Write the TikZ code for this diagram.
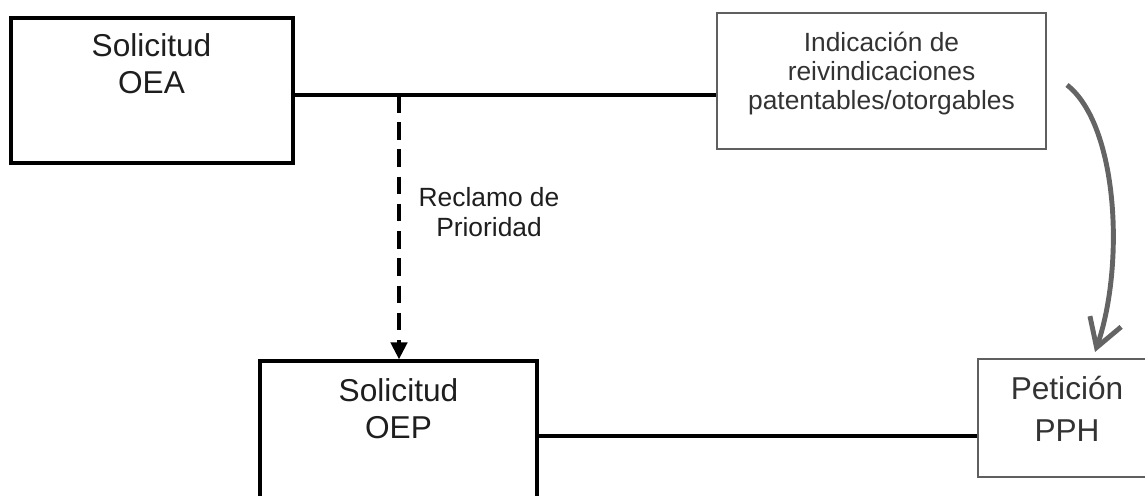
\documentclass[tikz,border=0pt]{standalone}
\usepackage{fontspec}
\setmainfont{Liberation Sans}
\usetikzlibrary{arrows.meta}
\definecolor{grisbox}{RGB}{95,95,95}
\definecolor{grisflecha}{RGB}{100,100,100}
\definecolor{texto}{RGB}{30,30,30}
\tikzset{
  caja/.style={draw, line width=1.8pt, rectangle, inner sep=0pt},
  cajagris/.style={draw=grisbox, line width=1.1pt, rectangle, inner sep=0pt},
  grande/.style={align=center, inner sep=0pt, anchor=north, text=texto, font=\fontsize{18}{21}\selectfont},
  chico/.style={align=center, inner sep=0pt, anchor=north, text=texto, font=\fontsize{15}{16}\selectfont},
  linea/.style={line width=2pt},
}

\begin{document}
\begin{tikzpicture}[x=0.02cm, y=-0.02cm]
\useasboundingbox (0,0) rectangle (1145,496);
\clip (0,0) rectangle (1145,496);

\node (OEA) at (152,90.5) [caja, minimum width=5.64cm, minimum height=2.9cm] {};
\node (IND) at (881.5,81) [cajagris, minimum width=6.58cm, minimum height=2.72cm] {};
\node (OEP) at (398.5,433.5) [caja, minimum width=5.54cm, minimum height=2.9cm] {};
\node (PPH) at (1067,418) [cajagris, minimum width=3.56cm, minimum height=2.36cm] {};

\node (OEAt) at (151.5,33) [grande] {Solicitud\\OEA};
\node (INDt) at (881.5,32) [chico, text=black!80, font=\fontsize{15}{16.5}\selectfont] {Indicación de\\reivindicaciones\\patentables/otorgables};
\node (OEPt) at (398.5,378) [grande] {Solicitud\\OEP};
\node (PPHt) at (1067,376) [grande, text=black!80, font=\fontsize{18}{24}\selectfont] {Petición\\PPH};
\node (REC) at (489,187) [chico, font=\fontsize{15}{17}\selectfont] {Reclamo de\\Prioridad};

\coordinate (J) at (399,95);
\coordinate (K) at (760,436);
\coordinate (A1) at (1067,85);
\coordinate (A2) at (1095,352);

\draw [linea] (OEA.east |- J) -- (IND.west |- J);
\draw [linea, line width=2.6pt, dash pattern=on 10pt off 5.5pt, -{Triangle[length=0.34cm,width=0.32cm]}] (J) -- (J |- OEP.north);
\draw [linea] (OEP.east |- K) -- (PPH.west |- K);
\draw [grisflecha, line width=2.8pt, -{Straight Barb[length=0.55cm,width=0.66cm]}] (A1) .. controls (1118,125) and (1125,265) .. (A2);

\end{tikzpicture}
\end{document}
